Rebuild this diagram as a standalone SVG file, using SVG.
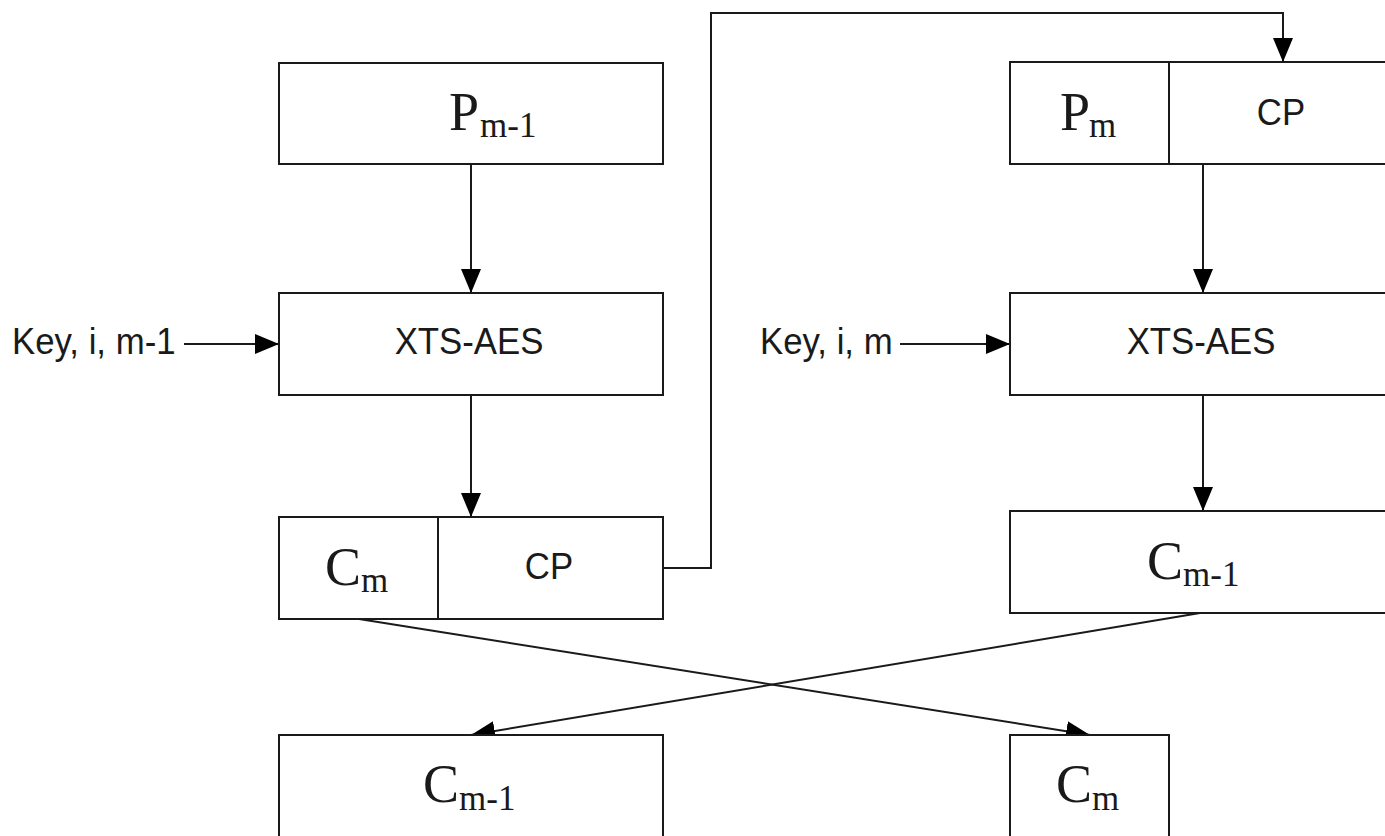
<svg xmlns="http://www.w3.org/2000/svg" width="1385" height="836" viewBox="0 0 1385 836">
<style>
.box{fill:#fff;stroke:#1a1a1a;stroke-width:2}
.ln{fill:none;stroke:#1a1a1a;stroke-width:2}
.sans{font-family:"Liberation Sans",Arial,sans-serif;font-size:37px;fill:#1a1a1a}
.serif{font-family:"Liberation Serif","Times New Roman",serif;font-size:54px;fill:#1a1a1a}
.sub{font-size:35px}
</style>
<defs>
<marker id="arr" viewBox="0 0 24 20" refX="24" refY="10" markerWidth="24" markerHeight="20" markerUnits="userSpaceOnUse" orient="auto">
<path d="M0,0 L24,10 L0,20 z" fill="#000"/>
</marker>
</defs>
<rect width="1385" height="836" fill="#fff"/>
<g id="connectors">
<line class="ln" x1="471" y1="164" x2="471" y2="293" marker-end="url(#arr)"/>
<line class="ln" x1="471" y1="395" x2="471" y2="517" marker-end="url(#arr)"/>
<line class="ln" x1="1203" y1="164" x2="1203" y2="293" marker-end="url(#arr)"/>
<line class="ln" x1="1203" y1="395" x2="1203" y2="511" marker-end="url(#arr)"/>
<line class="ln" x1="184" y1="344" x2="279" y2="344" marker-end="url(#arr)"/>
<line class="ln" x1="900" y1="344" x2="1010" y2="344" marker-end="url(#arr)"/>
<polyline class="ln" points="663,568 711,568 711,13 1283,13 1283,62" marker-end="url(#arr)"/>
<line class="ln" x1="359" y1="619" x2="1090" y2="735" marker-end="url(#arr)"/>
<line class="ln" x1="1200" y1="613" x2="471" y2="735" marker-end="url(#arr)"/>
</g>
<g id="pm1">
<rect class="box" x="279" y="63" width="384" height="101"/>
<text class="serif" x="449" y="130">P</text><text class="serif sub" x="480" y="137">m-1</text>
</g>
<g id="xts1">
<rect class="box" x="279" y="293" width="384" height="102"/>
<text class="sans" transform="translate(469,354) scale(0.94,1)" text-anchor="middle">XTS-AES</text>
</g>
<g id="key1">
<text class="sans" transform="translate(12,354) scale(0.94,1)">Key, i, m-1</text>
</g>
<g id="cmcp">
<rect class="box" x="279" y="517" width="384" height="102"/>
<line class="ln" x1="438" y1="517" x2="438" y2="619"/>
<text class="serif" x="325" y="585">C</text><text class="serif sub" x="361" y="592">m</text>
<text class="sans" transform="translate(549,579) scale(0.94,1)" text-anchor="middle">CP</text>
</g>
<g id="cm1bottom">
<rect class="box" x="279" y="735" width="384" height="120"/>
<text class="serif" x="423" y="802">C</text><text class="serif sub" x="459" y="810">m-1</text>
</g>
<g id="pmcp">
<rect class="box" x="1010" y="62" width="400" height="102"/>
<line class="ln" x1="1169" y1="62" x2="1169" y2="164"/>
<text class="serif" x="1060" y="130">P</text><text class="serif sub" x="1089" y="137">m</text>
<text class="sans" transform="translate(1281,125) scale(0.94,1)" text-anchor="middle">CP</text>
</g>
<g id="xts2">
<rect class="box" x="1010" y="293" width="400" height="102"/>
<text class="sans" transform="translate(1201,354) scale(0.94,1)" text-anchor="middle">XTS-AES</text>
</g>
<g id="key2">
<text class="sans" transform="translate(760,354) scale(0.94,1)">Key, i, m</text>
</g>
<g id="cm1right">
<rect class="box" x="1010" y="511" width="400" height="102"/>
<text class="serif" x="1147" y="579">C</text><text class="serif sub" x="1183" y="586">m-1</text>
</g>
<g id="cmbottom">
<rect class="box" x="1010" y="735" width="159" height="120"/>
<text class="serif" x="1056" y="802">C</text><text class="serif sub" x="1092" y="810">m</text>
</g>
</svg>
